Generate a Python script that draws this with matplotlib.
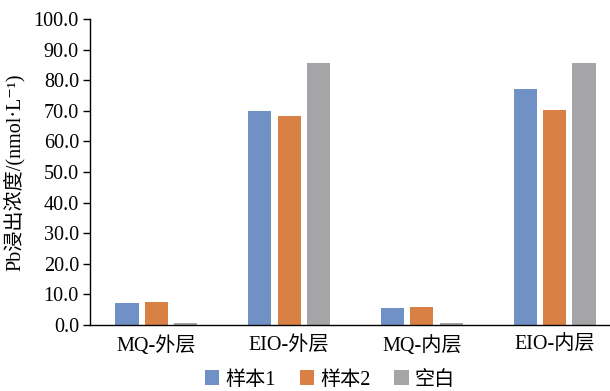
import matplotlib
matplotlib.use("Agg")
import matplotlib.pyplot as plt
import numpy as np

plt.rcParams['font.family'] = ['Liberation Serif', 'Noto Sans CJK SC', 'DejaVu Serif']

categories = ["MQ-外层", "EIO-外层", "MQ-内层", "EIO-内层"]
series_names = ["样本1", "样本2", "空白"]
sample1 = [7.3, 70.0, 5.4, 77.2]
sample2 = [7.4, 68.4, 5.9, 70.1]
blank = [0.6, 85.7, 0.6, 85.7]
colors = ["#7091C5", "#D98144", "#A5A5A8"]
yticks = np.arange(0, 101, 10)

fig = plt.figure(figsize=(6.10, 3.91), dpi=100)
ax = fig.add_axes([90 / 610, 66 / 391, 531 / 610, 306 / 391])

x = np.arange(len(categories))
width = 0.175
step = 0.222
for i, (vals, name, c) in enumerate(zip([sample1, sample2, blank], series_names, colors)):
    ax.bar(x + (i - 1) * step, vals, width, color=c, label=name, linewidth=0)

ax.set_xlim(-0.5, len(categories) - 0.5)
ax.set_ylim(0, 100)
ax.set_yticks(yticks)
ax.set_yticklabels([f"{v:.1f}" for v in yticks])
ax.set_xticks(x)
ax.set_xticklabels(categories)

ax.spines['top'].set_visible(False)
ax.spines['right'].set_visible(False)
ax.spines['left'].set_linewidth(1.0)
ax.spines['bottom'].set_linewidth(1.0)
ax.tick_params(axis='y', direction='out', length=5, width=1.0, labelsize=14.5, pad=3)
ax.tick_params(axis='x', length=0, labelsize=14.5, pad=8)

ax.set_ylabel("Pb浸出浓度/(nmol·L⁻¹)", fontsize=14.5, labelpad=6)

fig.legend(loc='center', bbox_to_anchor=(330 / 610, 1 - 380 / 391), ncol=3,
           frameon=False, fontsize=14.5, handlelength=0.7, handleheight=0.7,
           handletextpad=0.3, columnspacing=1.2)

fig.savefig("out.png", dpi=100)
